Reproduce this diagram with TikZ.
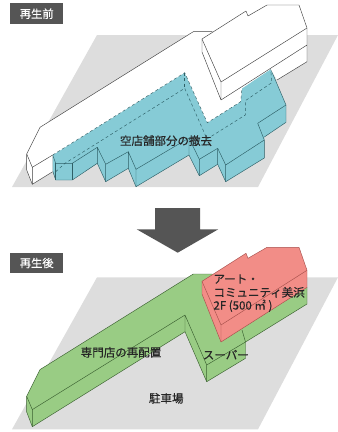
\documentclass[tikz,border=0pt]{standalone}
\usepackage{fontspec}
\newfontfamily\jpfont[FakeBold=0.35]{Noto Sans CJK JP}
\definecolor{lotgray}{HTML}{DDDDDD}
\definecolor{tabgray}{HTML}{555555}
\definecolor{teal1}{HTML}{86CBD6}
\definecolor{tealline}{HTML}{2E5F66}
\definecolor{green1}{HTML}{99CC84}
\definecolor{greenline}{HTML}{3A5F30}
\definecolor{red1}{HTML}{F28D87}
\definecolor{redline}{HTML}{A8504C}
\tikzset{
  lot/.style={fill=lotgray},
  tab/.style={fill=tabgray,text=white,font=\jpfont\fontsize{11.3}{13}\selectfont,minimum width=53.5pt,minimum height=20.7pt,inner sep=0pt},
  label/.style={text=black!85,font=\jpfont\fontsize{11.5}{13}\selectfont,inner sep=0pt},
  wire/.style={draw=black!75,line width=0.45pt,line join=round},
  tealwire/.style={draw=tealline,line width=0.45pt,line join=round},
  greenwire/.style={draw=greenline,line width=0.45pt,line join=round},
  redwire/.style={draw=redline,line width=0.45pt,line join=round},
  hidden/.style={draw=tealline,line width=0.45pt,dash pattern=on 3pt off 2.5pt}
}
\begin{document}
\begin{tikzpicture}[x=1pt,y=-1pt]
  \useasboundingbox (0,0) rectangle (338,432);
  % before
  \fill[lot] (12,187) -- (97,35) -- (338,35) -- (258,187) -- cycle;
  \fill[teal1] (52.7,155) -- (184.7,72.7) -- (207.3,122.7) -- (240.7,101.7) -- (242,88.3) -- (270.7,69) -- (286,105) -- (286,122.3) -- (264.3,137) -- (264.3,158) -- (225.7,181.7) -- (217.7,164.3) -- (199.3,175.7) -- (189,155) -- (136,186.7) -- (128.3,168.3) -- (105.7,181.7) -- (97.3,163.3) -- (72.3,180) -- (55.7,180) -- (52.7,171) -- cycle;
  \draw[tealwire] (270.7,69) -- (286,105) -- (286,122.3) -- (264.3,137);
  \draw[tealwire] (286,105) -- (257.7,123.3) -- (264.3,140) -- (264.3,158) -- (225.7,181.7) -- (225.7,165) -- (264.3,140);
  \draw[tealwire] (225.7,181.7) -- (217.7,164.3) -- (217.7,148.3) -- (225.7,165);
  \draw[tealwire] (217.7,164.3) -- (199.3,175.7) -- (199.3,159.3) -- (217.7,148.3);
  \draw[tealwire] (199.3,175.7) -- (189,155) -- (189,138) -- (199.3,159.3);
  \draw[tealwire] (189,155) -- (136,186.7) -- (136,169.3) -- (189,138);
  \draw[tealwire] (136,186.7) -- (128.3,168.3) -- (128.3,151.7) -- (136,169.3);
  \draw[tealwire] (128.3,168.3) -- (105.7,181.7) -- (105.7,164.3) -- (128.3,151.7);
  \draw[tealwire] (105.7,181.7) -- (97.3,163.3) -- (97.3,147.3) -- (105.7,164.3);
  \draw[tealwire] (97.3,163.3) -- (72.3,180) -- (55.7,180) -- (52.7,171) -- (52.7,155) -- (55.7,163.3) -- (72.3,163.3) -- (97.3,147.3);
  \draw[tealwire] (55.7,163.3) -- (55.7,180) (72.3,163.3) -- (72.3,180);
  \fill[white] (26.7,154) -- (40,127.3) -- (193.3,31.7) -- (212.3,31.7) -- (280,60) -- (270.7,69) -- (242,88.3) -- (240.7,101.7) -- (207.3,122.7) -- (184.7,72.7) -- (52.7,155) -- (52.7,171.7) -- (32.3,184.3) -- (26.7,170) -- cycle;
  \draw[wire] (212.3,31.7) -- (193.3,31.7) -- (40,127.3) -- (26.7,154) -- (26.7,170) -- (32.3,184.3) -- (52.7,171.7) (26.7,154) -- (32.3,167.3) -- (52.7,155) (32.3,167.3) -- (32.3,184.3);
  \draw[hidden] (52.7,155) -- (184.7,72.7) -- (207.3,122.7) -- (240.7,101.7) -- (242,88.3);
  \draw[hidden] (55.7,171.7) -- (65,163.3) -- (184.7,88.3) -- (207,139) -- (245.3,115) -- (245.3,100.7) -- (271.7,82.7) -- (270.7,69);
  \draw[hidden] (184.7,72.7) -- (184.7,88.3);
  \fill[white] (202,39) -- (246,11) -- (248,16) -- (267,5) -- (299,5) -- (307,28) -- (307,61.7) -- (277,80) -- (270.7,69) -- (221,100) -- (202,52) -- cycle;
  \draw[wire] (202,39) -- (246,11) -- (248,16) -- (267,5) -- (299,5) -- (307,28) -- (221,82) -- cycle;
  \draw[wire] (307,28) -- (307,61.7) -- (277,80) (307,45) -- (221,100) -- (221,82) (202,39) -- (202,52) -- (221,100);
  \node[label] (removal) at (166,140.7) {空店舗部分の撤去};
  \node[tab] (tabbefore) at (36.7,13.7) {再生前};
  % arrow
  \fill[tabgray] (155,208) -- (200,208) -- (200,229.3) -- (218.3,229.3) -- (177.7,252.7) -- (136.7,229.3) -- (155,229.3) -- cycle;
  % after
  \node[tab] (tabafter) at (36.7,263) {再生後};
  \fill[lot] (12,429.3) -- (97,277.3) -- (338,277.3) -- (258,429.3) -- cycle;
  \fill[green1] (26.7,396.3) -- (40,369.6) -- (193.3,274) -- (212.3,274) -- (307,287) -- (307,304) -- (245.5,342) -- (245.5,358.3) -- (206.7,381.7) -- (185,331.7) -- (32.3,426.7) -- (26.7,412) -- cycle;
  \draw[greenwire] (212.3,274) -- (193.3,274) -- (40,369.6) -- (26.7,396.3) -- (26.7,412) -- (32.3,426.7) -- (185,331.7) -- (206.7,381.7) -- (245.5,358.3) -- (245.5,342) -- (242,330);
  \draw[greenwire] (26.7,396.3) -- (32.3,409.6) -- (185,315) -- (206.7,365) -- (245.5,342) (185,315) -- (185,331.7) (32.3,409.6) -- (32.3,426.7) (206.7,365) -- (206.7,381.7) (245.5,342) -- (307,304) -- (307,287);
  \filldraw[fill=red1,redwire] (202,281.3) -- (246,253.3) -- (248,258.3) -- (267,247.3) -- (299,247.3) -- (307,270.3) -- (307,287.3) -- (221,342) -- (202,294) -- cycle;
  \draw[redwire] (202,281.3) -- (221,325) -- (307,270.3) (221,325) -- (221,342);
  \node[label] (shops) at (121,352.3) {専門店の再配置};
  \node[label] (super) at (225.8,354.7) {スーパー};
  \node[label] (parking) at (166.3,398.3) {駐車場};
  \node[label,anchor=west] (art1) at (213.3,279) {アート・};
  \node[label,anchor=west] (art2) at (213.3,292.3) {コミュニティ美浜};
  \node[label,anchor=west] (art3) at (213.3,305.7) {2F (500 ㎡ )};
\end{tikzpicture}
\end{document}
